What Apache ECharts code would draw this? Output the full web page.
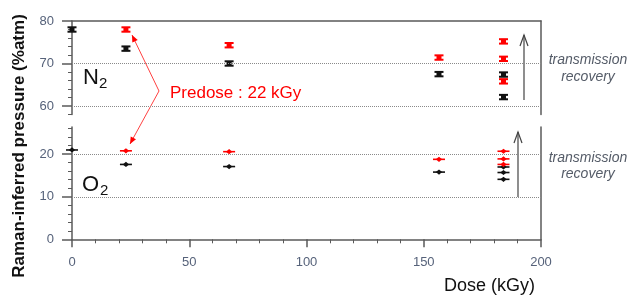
<!DOCTYPE html>
<html><head><meta charset="utf-8">
<script src="https://cdn.jsdelivr.net/npm/echarts@6/dist/echarts.min.js"></script>
<style>html,body{margin:0;padding:0;background:#fff}#c{width:634px;height:296px}</style>
</head><body><div id="c"></div>
<script>
// ---- data ----
const xTicks = [0, 50, 100, 150, 200];
const n2Major = [60, 70, 80];
const n2Minor = [58, 62, 64, 66, 68, 72, 74, 76, 78];
const o2Major = [0, 10, 20];
const o2Minor = [2, 4, 6, 8, 12, 14, 16, 18, 22, 24, 26];
const n2GridVals = [60, 70];
const o2GridVals = [10, 20];
const n2Black = [[0, 78.0], [23, 73.5], [67, 70.0], [156.5, 67.5], [184, 67.4], [184, 62.1]];
const n2Red   = [[23, 78.0], [67, 74.3], [156.5, 71.4], [184, 75.2], [184, 71.1], [184, 65.8]];
const o2Black = [[0, 21.0], [23, 17.6], [67, 17.1], [156.5, 15.8], [184, 17.0], [184, 15.7], [184, 14.1]];
const o2Red   = [[23, 20.8], [67, 20.6], [156.5, 18.8], [184, 20.7], [184, 18.9], [184, 17.6]];

const FONT = 'Liberation Sans, Arial, sans-serif';
const AX = '#5a5a5a';
const LBL = '#56627a';

const chart = echarts.init(document.getElementById('c'), null, {renderer: 'canvas'});

function beam(color) {
  return function (params, api) {
    const c = api.coord([api.value(0), api.value(1)]);
    const x = c[0], y = c[1];
    return {type: 'group', children: [
      {type: 'rect', shape: {x: x - 4.5, y: y - 3.2, width: 9, height: 2}, style: {fill: color}},
      {type: 'rect', shape: {x: x - 4.5, y: y + 1.2, width: 9, height: 2}, style: {fill: color}},
      {type: 'rect', shape: {x: x - 2.5, y: y - 2.5, width: 5, height: 5}, style: {fill: color}}
    ]};
  };
}
function dash(color) {
  return function (params, api) {
    const c = api.coord([api.value(0), api.value(1)]);
    const x = c[0], y = c[1];
    return {type: 'group', children: [
      {type: 'line', shape: {x1: x - 6, y1: y, x2: x + 6, y2: y}, style: {stroke: color, lineWidth: 1.6}},
      {type: 'polygon', shape: {points: [[x - 3.2, y], [x, y - 2.6], [x + 3.2, y], [x, y + 2.6]]}, style: {fill: color}}
    ]};
  };
}

function yAx(grid, min, max, pos, opts) {
  return Object.assign({
    type: 'value', gridIndex: grid, min: min, max: max, position: pos,
    axisLine: {show: false, lineStyle: {color: AX, width: 1.5}},
    axisTick: {show: false}, axisLabel: {show: false}, splitLine: {show: false}
  }, opts);
}

const dotted = {type: 'dotted', color: '#8a8a8a', width: 1};

chart.setOption({
  animation: false,
  grid: [
    {left: 72, right: 93, top: 21, height: 93.5, outerBoundsMode: 'none'},
    {left: 72, right: 93, top: 127, height: 112.3, outerBoundsMode: 'none'}
  ],
  xAxis: [
    {type: 'value', gridIndex: 0, min: 0, max: 200, position: 'top',
     axisLine: {show: true, lineStyle: {color: AX, width: 1.5}}, axisTick: {show: false},
     axisLabel: {show: false}, splitLine: {show: false}},
    {type: 'value', gridIndex: 1, min: 0, max: 200, interval: 50, position: 'bottom',
     axisLine: {show: true, onZero: false, lineStyle: {color: AX, width: 1.5}},
     axisTick: {show: true, length: 8, lineStyle: {color: AX, width: 1.5}},
     minorTick: {show: true, splitNumber: 5, length: 4, lineStyle: {color: AX, width: 1}},
     axisLabel: {margin: 17, color: LBL, fontSize: 13, fontFamily: FONT,
                 customValues: xTicks},
     splitLine: {show: false}}
  ],
  yAxis: [
    yAx(0, 58, 80, 'left', {axisLine: {show: true, lineStyle: {color: AX, width: 1.5}},
      axisTick: {show: true, length: 10, customValues: n2Major, lineStyle: {color: AX, width: 1.5}},
      axisLabel: {show: true, margin: 18, customValues: n2Major, color: LBL, fontSize: 13, fontFamily: FONT}}),
    yAx(0, 58, 80, 'left', {axisTick: {show: true, length: 4, customValues: n2Minor, lineStyle: {color: AX, width: 1}}}),
    yAx(0, 58, 80, 'right', {axisLine: {show: true, lineStyle: {color: AX, width: 1.5}}}),
    yAx(1, 0, 26.4, 'left', {axisLine: {show: true, onZero: false, lineStyle: {color: AX, width: 1.5}},
      axisTick: {show: true, length: 10, customValues: o2Major, lineStyle: {color: AX, width: 1.5}},
      axisLabel: {show: true, margin: 18, customValues: o2Major, color: LBL, fontSize: 13, fontFamily: FONT}}),
    yAx(1, 0, 26.4, 'left', {axisTick: {show: true, length: 4, customValues: o2Minor, lineStyle: {color: AX, width: 1}}}),
    yAx(1, 0, 26.4, 'right', {axisLine: {show: true, lineStyle: {color: AX, width: 1.5}}})
  ],
  series: [
    {type: 'line', xAxisIndex: 0, yAxisIndex: 0, data: [], silent: true,
     markLine: {silent: true, symbol: 'none', label: {show: false}, lineStyle: dotted,
                data: n2GridVals.map(v => ({yAxis: v}))}},
    {type: 'line', xAxisIndex: 1, yAxisIndex: 3, data: [], silent: true,
     markLine: {silent: true, symbol: 'none', label: {show: false}, lineStyle: dotted,
                data: o2GridVals.map(v => ({yAxis: v}))}},
    {type: 'custom', name: 'N2 dosed', xAxisIndex: 0, yAxisIndex: 0, data: n2Black, renderItem: beam('#111111')},
    {type: 'custom', name: 'N2 predose', xAxisIndex: 0, yAxisIndex: 0, data: n2Red, renderItem: beam('#ff0000')},
    {type: 'custom', name: 'O2 dosed', xAxisIndex: 1, yAxisIndex: 3, data: o2Black, renderItem: dash('#111111')},
    {type: 'custom', name: 'O2 predose', xAxisIndex: 1, yAxisIndex: 3, data: o2Red, renderItem: dash('#ff0000')}
  ]
});

// ---- annotations ----
function head(tip, from, color) {
  const dx = tip[0] - from[0], dy = tip[1] - from[1];
  const L = Math.hypot(dx, dy), ux = dx / L, uy = dy / L;
  const bx = tip[0] - ux * 7, by = tip[1] - uy * 7;
  return {type: 'polygon', shape: {points: [tip, [bx - uy * 3, by + ux * 3], [bx + uy * 3, by - ux * 3]]},
          style: {fill: color}};
}
const vtx = [159, 91], tipU = [132, 35], tipL = [130, 144];
const g = [];
g.push({type: 'polyline', shape: {points: [tipU, vtx, tipL]}, style: {stroke: '#ff4040', lineWidth: 1, fill: null}});
g.push(head(tipU, vtx, '#ff0000'));
g.push(head(tipL, vtx, '#ff0000'));
g.push({type: 'text', x: 170, y: 93, style: {text: 'Predose : 22 kGy', font: '17px ' + FONT, fill: '#ff0000',
        textAlign: 'left', textVerticalAlign: 'middle'}});
// recovery arrows
function upArrow(x, y0, y1) {
  return [
    {type: 'line', shape: {x1: x, y1: y0, x2: x, y2: y1}, style: {stroke: '#444', lineWidth: 1.2}},
    {type: 'polyline', shape: {points: [[x - 4, y1 + 11], [x, y1], [x + 4, y1 + 11]]}, style: {stroke: '#444', lineWidth: 1.2, fill: null}}
  ];
}
g.push(...upArrow(524, 100, 35));
g.push(...upArrow(518, 197, 132));
[[60, 'transmission'], [77, 'recovery'], [158, 'transmission'], [174, 'recovery']].forEach(t => {
  g.push({type: 'text', x: 588, y: t[0], style: {text: t[1], font: 'italic 14px ' + FONT, fill: '#555c68',
          textAlign: 'center', textVerticalAlign: 'middle'}});
});
// species labels
g.push({type: 'text', x: 83, y: 78, style: {text: 'N', font: '22px ' + FONT, fill: '#111', textAlign: 'left', textVerticalAlign: 'middle'}});
g.push({type: 'text', x: 99, y: 84, style: {text: '2', font: '15px ' + FONT, fill: '#111', textAlign: 'left', textVerticalAlign: 'middle'}});
g.push({type: 'text', x: 82, y: 185, style: {text: 'O', font: '22px ' + FONT, fill: '#111', textAlign: 'left', textVerticalAlign: 'middle'}});
g.push({type: 'text', x: 100, y: 191, style: {text: '2', font: '15px ' + FONT, fill: '#111', textAlign: 'left', textVerticalAlign: 'middle'}});
// axis titles
g.push({type: 'text', x: 19, y: 146, rotation: Math.PI / 2,
        style: {text: 'Raman-inferred pressure (%atm)', font: 'bold 17px ' + FONT, fill: '#111',
                textAlign: 'center', textVerticalAlign: 'middle'}});
g.push({type: 'text', x: 535, y: 286, style: {text: 'Dose (kGy)', font: '18px ' + FONT, fill: '#111',
        textAlign: 'right', textVerticalAlign: 'middle'}});
chart.setOption({graphic: g});
</script></body></html>
